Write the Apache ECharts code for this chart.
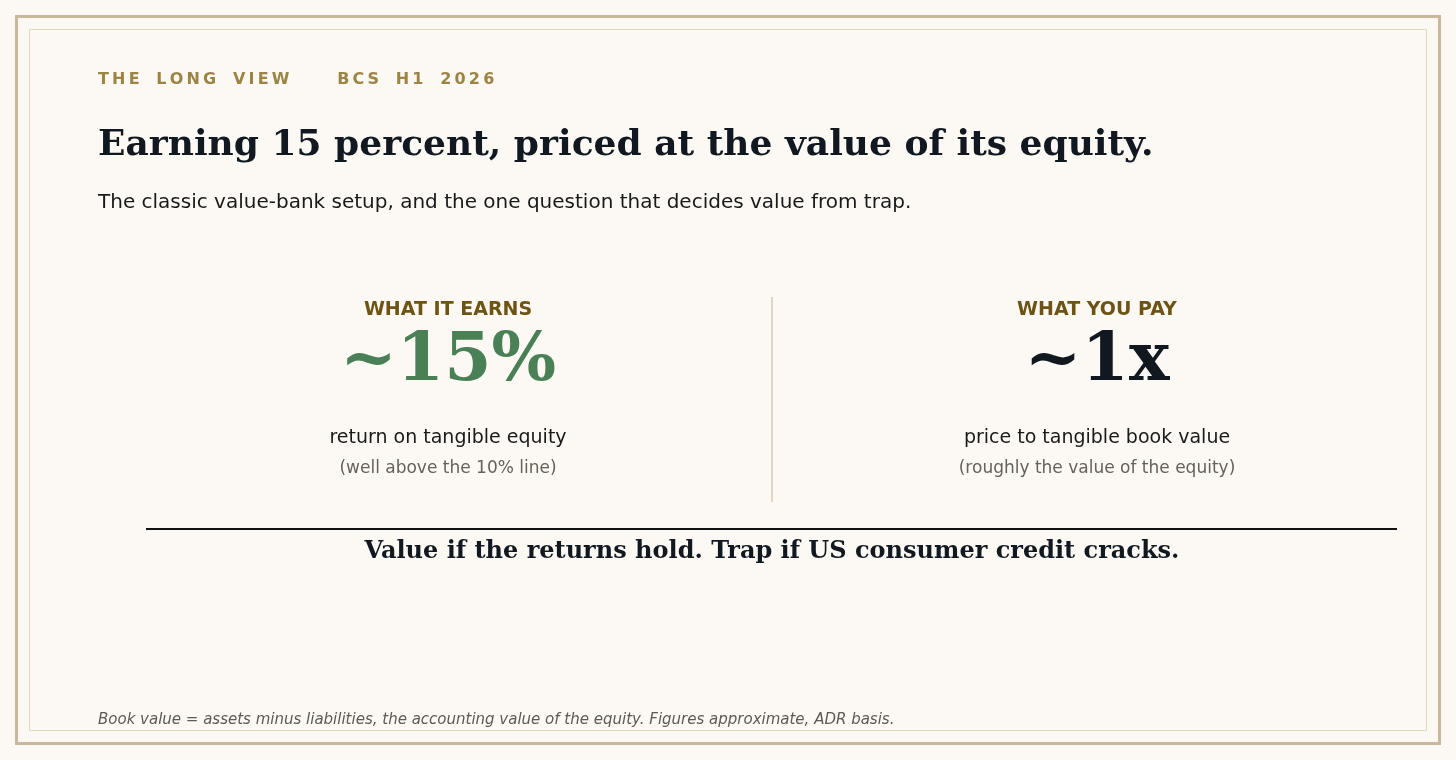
<!DOCTYPE html>
<html>
<head>
<meta charset="utf-8">
<script src="https://cdn.jsdelivr.net/npm/echarts@6/dist/echarts.min.js"></script>
<style>
  html, body { margin: 0; padding: 0; background: #fcf9f4; }
  #chart { width: 1456px; height: 760px; }
</style>
</head>
<body>
<div id="chart"></div>
<script>
const kicker = 'THE LONG VIEW    BCS H1 2026';
const title = 'Earning 15 percent, priced at the value of its equity.';
const subtitle = 'The classic value-bank setup, and the one question that decides value from trap.';
const panelLabels = ['WHAT IT EARNS', 'WHAT YOU PAY'];
const panelValues = ['~15%', '~1x'];
const panelCaptions = ['return on tangible equity', 'price to tangible book value'];
const panelNotes = ['(well above the 10% line)', '(roughly the value of the equity)'];
const panelColors = ['#4a8055', '#111820'];
const verdict = 'Value if the returns hold. Trap if US consumer credit cracks.';
const footnote = 'Book value = assets minus liabilities, the accounting value of the equity. Figures approximate, ADR basis.';

const chart = echarts.init(document.getElementById('chart'));

function spaced(s) {
  return s.split('').join('\u2009').replace(/\u2009 \u2009/g, '   ');
}

const sans = '"DejaVu Sans", sans-serif';
const serif = '"DejaVu Serif", serif';
const centers = [448, 1097];

const graphic = [
  { type: 'rect', shape: { x: 0, y: 0, width: 1456, height: 760 }, style: { fill: '#fcf9f4' } },
  { type: 'rect', shape: { x: 16.5, y: 16.5, width: 1423, height: 727 }, style: { fill: 'none', stroke: '#c9b999', lineWidth: 3 } },
  { type: 'rect', shape: { x: 29.5, y: 29.5, width: 1397, height: 701 }, style: { fill: 'none', stroke: '#e2d6bf', lineWidth: 1 } },
  { type: 'text', x: 98, y: 80, style: { text: spaced(kicker), font: 'bold 16px ' + sans, fill: '#9c8444', verticalAlign: 'middle' } },
  { type: 'text', x: 98, y: 146, style: { text: title, font: 'bold 36px ' + serif, fill: '#111820', verticalAlign: 'middle' } },
  { type: 'text', x: 98, y: 203, style: { text: subtitle, font: '20px ' + sans, fill: '#1a1a1a', verticalAlign: 'middle' } },
  { type: 'line', shape: { x1: 772, y1: 297, x2: 772, y2: 502 }, style: { stroke: '#e2d6c2', lineWidth: 2 } },
  { type: 'line', shape: { x1: 146, y1: 529, x2: 1397, y2: 529 }, style: { stroke: '#111', lineWidth: 2 } },
  { type: 'text', x: 772, y: 552, style: { text: verdict, font: 'bold 24px ' + serif, fill: '#111820', align: 'center', verticalAlign: 'middle' } },
  { type: 'text', x: 98, y: 720, style: { text: footnote, font: 'italic 15px ' + sans, fill: '#5e5a52', verticalAlign: 'middle' } }
];

panelLabels.forEach((lab, i) => {
  const cx = centers[i];
  graphic.push(
    { type: 'text', x: cx, y: 310, style: { text: lab, font: 'bold 19px ' + sans, fill: '#6e5414', align: 'center', verticalAlign: 'middle' } },
    { type: 'text', x: cx, y: 362, style: { text: panelValues[i], font: 'bold 68px ' + serif, fill: panelColors[i], align: 'center', verticalAlign: 'middle' } },
    { type: 'text', x: cx, y: 438, style: { text: panelCaptions[i], font: '19px ' + sans, fill: '#1a1a1a', align: 'center', verticalAlign: 'middle' } },
    { type: 'text', x: cx, y: 469, style: { text: panelNotes[i], font: '17px ' + sans, fill: '#66625a', align: 'center', verticalAlign: 'middle' } }
  );
});

chart.setOption({ backgroundColor: '#fcf9f4', graphic: graphic });
</script>
</body>
</html>
